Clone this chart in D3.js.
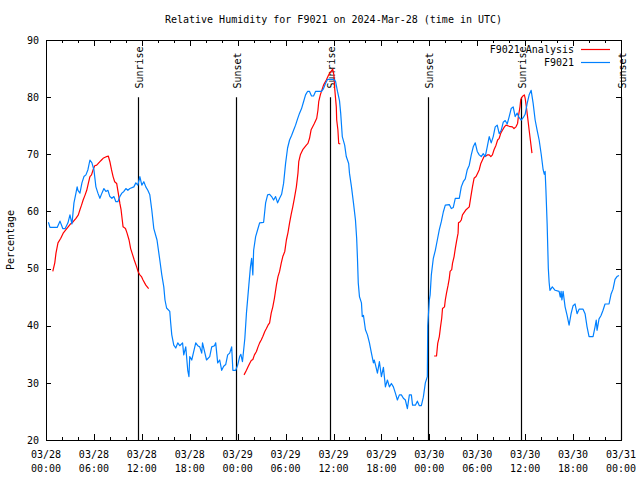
<!DOCTYPE html>
<html><head><meta charset="utf-8">
<script src="https://cdn.jsdelivr.net/npm/d3@7"></script>
<style>
body{margin:0;background:#fff;}
svg{display:block;font-family:"DejaVu Sans Mono",monospace;font-size:10px;}
</style></head><body>
<svg id="chart" width="640" height="480"></svg>
<script>
// ---- DATA (hours after 2024-03-28 00:00 UTC, relative humidity %) ----
const stationHours = [0.3,0.5,1.4,1.75,2.1,2.4,2.75,3,3.25,3.5,3.75,3.9,4,4.25,4.5,4.75,5,5.25,5.5,5.75,6,6.25,6.5,6.75,7,7.25,7.5,7.75,8,8.25,8.5,8.75,9,9.25,9.5,9.75,10,10.25,10.5,11,11.25,11.5,11.75,12,12.25,12.5,12.75,13,13.25,13.5,13.9,14.25,14.5,14.75,14.9,15.1,15.5,15.6,15.75,16,16.25,16.5,16.75,17.1,17.25,17.5,17.75,17.9,18,18.25,18.5,18.75,19,19.25,19.5,19.6,19.9,20.1,20.5,20.75,21.1,21.25,21.5,21.75,22,22.25,22.5,22.75,23,23.25,23.4,23.75,24,24.25,24.4,24.6,24.9,25.1,25.4,25.6,25.75,25.9,26,26.25,26.5,26.75,27.25,27.5,27.75,28,28.25,28.5,28.75,29,29.25,29.5,29.75,30,30.25,30.5,30.75,31,31.25,31.5,31.75,32,32.25,32.5,32.75,33,33.25,33.5,33.75,34.5,34.75,35,35.25,36,36.25,36.5,36.75,36.9,37.1,37.4,37.6,37.9,38,38.25,38.5,38.75,38.9,39,39.1,39.25,39.5,39.6,39.75,40,40.25,40.5,40.75,41,41.1,41.25,41.5,41.75,42,42.25,42.5,42.75,43,43.25,43.5,43.75,44,44.25,44.5,44.75,45,45.25,45.5,45.75,45.9,46.25,46.5,46.75,47,47.25,47.5,47.75,47.8,48,48.1,48.25,48.5,48.75,49,49.25,49.5,49.75,50,50.5,50.75,51,51.25,51.75,52,52.25,52.5,52.75,53,53.25,53.5,53.75,54,54.25,54.5,54.75,55,55.25,55.5,55.75,56,56.25,56.5,56.75,57,57.25,57.5,57.75,58,58.25,58.5,58.75,59,59.25,59.5,59.75,60,60.25,60.5,60.75,61,61.25,61.5,61.75,62,62.25,62.4,62.5,62.6,62.75,62.9,63,63.1,63.4,63.75,64.25,64.4,64.5,64.6,64.75,65,65.25,65.5,65.75,66,66.25,66.5,66.75,67.25,67.5,67.75,68,68.5,68.75,68.9,69,69.25,69.5,69.75,70,70.5,70.75,71,71.25,71.5,71.75];
const stationRH = [58.1,57.2,57.2,58.3,57,57,58,59.4,57.8,61.5,63.2,64.3,63.7,63.2,65,66.1,66.4,67.3,69,68.5,67.3,64.3,63.2,62.3,63.2,64,63.5,63.7,62.6,62.3,62.6,61.7,61.7,62.6,63.2,63.5,64,63.7,64,64.3,65,64.6,66.1,64.6,65.2,64.3,63.7,62.9,60.2,57,55,51.5,48.9,46.8,44.5,43.1,42.5,40.7,38.4,36.6,36.1,37,36.5,37,34.9,36.3,32.2,31.1,34.6,34,35.5,37,36.5,36.3,35.2,37,35.2,34,34.6,36.3,36.5,37,33.5,34,32.2,32.9,33.2,34.9,35.2,36.3,32.2,32.2,33.1,34.6,35,33.7,37.8,42.2,47.1,50.3,51.8,48.9,53.2,55.6,56.8,58,58.1,61.5,62.9,63,62.6,62,62.6,61.5,62.3,63,64.9,68.4,71.1,72.5,73.3,74.2,75.1,76.2,77.2,78,79.2,80.4,81,81,80.2,80.2,81,81,81.5,82.4,83.1,83.1,82.8,81,79.4,77.2,73.1,71.6,69.6,68.4,66.7,64.3,61.5,58.5,55.3,51.8,47.5,45.1,44,41.6,41.8,39.3,38.4,37,35.2,33.5,34,33.2,31.7,33.7,31.1,32.7,29.3,30.5,29.3,29.9,29.3,28.2,27,27.9,27.9,27.3,27,25.5,27.9,27.9,26.1,26.1,26.8,26,26,27.5,30,31.1,40,44.5,45.4,48.9,51.8,53.2,55,56.8,58.2,59.9,61.1,61.2,60.5,60.7,62.3,62.3,64.3,65.2,65.7,67.3,68.1,69.9,71.3,72,70.5,69.9,69.6,70.1,69.6,71.3,73.1,72,73.1,74.8,75.1,73.6,74.2,75.6,75.9,75.3,76.6,78,78.3,76.6,77.2,76.4,76,76.4,77,78.9,80.4,81.2,78.9,76,74.2,72.5,70.1,67.3,66.5,67,63.7,57.9,50,47.6,46.2,46.8,46.2,46,45,46,44.5,46,43.3,41.8,40.1,42.1,43.5,43.8,42.1,42.9,42.9,42.1,39.8,38.1,38.1,39.8,41,39.2,41.2,41.8,42.7,43.8,43.8,45.5,46.4,48.1,48.6,48.8];

// analysis series: null hour marks a gap between runs
const analysisHours = [0.85,1.1,1.25,1.5,1.85,2.15,2.6,3,3.4,3.75,4.05,4.25,4.45,4.65,4.9,5.1,5.3,5.5,5.7,5.9,6.1,6.35,6.55,6.75,6.95,7.15,7.6,7.8,8,8.2,8.4,8.6,8.85,9.05,9.25,9.4,9.55,9.65,9.95,10.15,10.4,10.6,10.85,11.05,11.35,11.55,11.75,11.95,12.15,12.5,12.85,
  null,
  24.8,25.1,25.3,25.5,25.7,25.9,26.1,26.35,26.55,26.75,26.95,27.15,27.4,27.6,27.8,28,28.2,28.4,28.6,28.85,29.05,29.25,29.45,29.65,29.9,30.1,30.3,30.5,30.7,30.9,31.1,31.35,31.55,31.65,31.85,32.15,32.6,32.8,33,33.2,33.6,33.9,34.05,34.15,34.35,34.75,35.1,35.4,35.7,35.9,36.05,36.15,36.35,36.4,36.55,36.65,36.85,
  null,
  48.6,48.9,49.05,49.25,49.4,49.55,49.65,49.9,50,50.15,50.35,50.5,50.6,50.8,50.9,51.1,51.25,51.4,51.6,51.65,51.85,52,52.15,52.6,53,53.2,53.4,53.6,53.85,54.05,54.25,54.45,54.65,54.85,55.1,55.3,55.5,55.7,55.9,56.1,56.35,56.55,56.75,56.95,57.15,57.4,57.6,58,58.4,58.6,58.85,59.05,59.15,59.35,59.45,59.65,59.9,60,60.15,60.35,60.5,60.65,60.85];
const analysisRH = [49.5,51,52.7,54.5,55.3,56.2,57,57.7,58.2,58.8,59.4,60.3,61.1,62,62.9,63.7,64.9,66.1,66.4,67.3,68,68.1,68.4,68.7,69,69.3,69.6,69.7,68.7,67.3,66.1,65.2,64.9,63.2,61.4,60.3,58.5,57.3,57,56.2,55,53.5,52.4,51.5,50.3,49.4,48.9,48.6,48,47.1,46.5,
  null,
  31.4,32.2,32.8,33.4,33.9,34.1,34.9,35.5,36.3,37,37.5,38.1,39,39.5,40.1,40.5,42.2,43.3,44.8,47.1,48.6,49.5,50.9,52.1,53,55,56.3,58,59.5,60.8,62.3,64.3,66.7,68.7,69.9,70.8,71.6,71.9,72.8,74.3,75.4,76.3,77.7,79.2,80.4,82.1,83,83.9,84.5,84.9,83.9,81.5,78.3,76,74.3,71.9,71.8,
  null,
  34.7,34.7,36.9,38.1,39.8,41.3,43,43.3,44.5,45.7,47.1,48.3,49.5,49.8,50.9,52.1,53.5,54.7,56.2,58,58.2,58.5,59.4,60.3,60.8,62.6,64.3,65.8,66.1,66.7,67.3,68.4,69,69.6,69.7,69.9,69.9,69.6,69.9,70.8,71.6,72.5,72.8,73.7,74.2,74.8,75.1,74.9,74.8,74.5,74.8,75.4,76.6,78.3,79.6,80.1,80.4,79.8,78.3,76,74.2,72.5,70.2];

const eventHours = [11.55, 23.8, 35.6, 47.85, 59.5, 71.95];
const eventNames = ["Sunrise","Sunset","Sunrise","Sunset","Sunrise","Sunset"];
const yTicks = [20,30,40,50,60,70,80,90];
const seriesNames = ["F9021 Analysis","F9021"];
const seriesColors = ["#ff0000","#0080ff"];
const titleText = "Relative Humidity for F9021 on 2024-Mar-28 (time in UTC)";
const yLabel = "Percentage";

// ---- CHART ----
const t0 = Date.UTC(2024,2,28,0,0);
const toDate = h => new Date(t0 + h*3600e3);
const svg = d3.select("#chart");
const L=46, R=621, T=40, B=440;
const x = d3.scaleUtc().domain([toDate(0), toDate(72)]).range([L,R]);
const y = d3.scaleLinear().domain([20,90]).range([B,T]);

// title
svg.append("text").attr("x",(L+R)/2).attr("y",23).attr("text-anchor","middle").text(titleText);
// y label
svg.append("text").attr("transform",`translate(14,${(T+B)/2}) rotate(-90)`).attr("text-anchor","middle").text(yLabel);

// frame
svg.append("rect").attr("x",L).attr("y",T).attr("width",R-L).attr("height",B-T)
  .attr("fill","none").attr("stroke","#000").attr("shape-rendering","crispEdges");

// x ticks (major every 6h, minor every 2h) bottom & top
const major = d3.utcHour.every(6).range(toDate(0), toDate(72.01));
const minor = d3.utcHour.every(2).range(toDate(0), toDate(72.01));
const fmtD = d3.utcFormat("%m/%d"), fmtT = d3.utcFormat("%H:%M");
const axB = svg.append("g").attr("transform",`translate(0,${B})`)
  .call(d3.axisBottom(x).tickValues(minor).tickSize(-3).tickFormat(""));
const axB2 = svg.append("g").attr("transform",`translate(0,${B})`)
  .call(d3.axisBottom(x).tickValues(major).tickSize(-6).tickPadding(15).tickFormat(""));
const axT = svg.append("g").attr("transform",`translate(0,${T})`)
  .call(d3.axisTop(x).tickValues(minor).tickSize(-3).tickFormat(""));
const axT2 = svg.append("g").attr("transform",`translate(0,${T})`)
  .call(d3.axisTop(x).tickValues(major).tickSize(-6).tickFormat(""));
[axB,axB2,axT,axT2].forEach(g=>{g.select(".domain").remove();g.selectAll("line").attr("shape-rendering","crispEdges");});
const xl = svg.append("g");
major.forEach(d=>{
  const t = xl.append("text").attr("x",x(d)).attr("text-anchor","middle").attr("fill","#000");
  t.append("tspan").attr("x",x(d)).attr("y",458).text(fmtD(d));
  t.append("tspan").attr("x",x(d)).attr("y",472).text(fmtT(d));
});

// y ticks left & right
const ayL = svg.append("g").attr("transform",`translate(${L},0)`)
  .call(d3.axisLeft(y).tickValues(yTicks).tickSize(-5).tickPadding(7).tickFormat(d3.format("d")));
const ayR = svg.append("g").attr("transform",`translate(${R},0)`)
  .call(d3.axisRight(y).tickValues(yTicks).tickSize(-5).tickFormat(""));
[ayL,ayR].forEach(g=>{g.select(".domain").remove();g.selectAll("line").attr("shape-rendering","crispEdges");
  g.selectAll("text").attr("font-family","DejaVu Sans Mono").attr("font-size",10);});

// event lines + labels
eventHours.forEach((h,i)=>{
  const xx = Math.round(x(toDate(h)))+0.5;
  svg.append("line").attr("x1",xx).attr("x2",xx).attr("y1",y(80)).attr("y2",B)
    .attr("stroke","#000").attr("stroke-width",1.2);
  svg.append("text").attr("transform",`translate(${xx+1},${y(81.5)}) rotate(-90)`)
    .attr("dy","0.35em").attr("text-anchor","start").text(eventNames[i]);
});

// lines
const line = d3.line().defined(d=>d[0]!=null && d[1]!=null)
  .x(d=>x(toDate(d[0]))).y(d=>y(d[1]));
const stationData = stationHours.map((h,i)=>[h,stationRH[i]]);
const analysisData = analysisHours.map((h,i)=>[h,analysisRH[i]]);
svg.append("path").datum(analysisData).attr("d",line).attr("fill","none")
  .attr("stroke",seriesColors[0]).attr("stroke-width",1.2).attr("stroke-linejoin","round");
svg.append("path").datum(stationData).attr("d",line).attr("fill","none")
  .attr("stroke",seriesColors[1]).attr("stroke-width",1.2).attr("stroke-linejoin","round");

// legend
seriesNames.forEach((n,i)=>{
  const yy = 49.5 + i*13;
  svg.append("text").attr("x",574).attr("y",yy).attr("dy","0.35em").attr("text-anchor","end").text(n);
  svg.append("line").attr("x1",581).attr("x2",610).attr("y1",yy).attr("y2",yy)
    .attr("stroke",seriesColors[i]).attr("stroke-width",1.2);
});
</script>
</body></html>
